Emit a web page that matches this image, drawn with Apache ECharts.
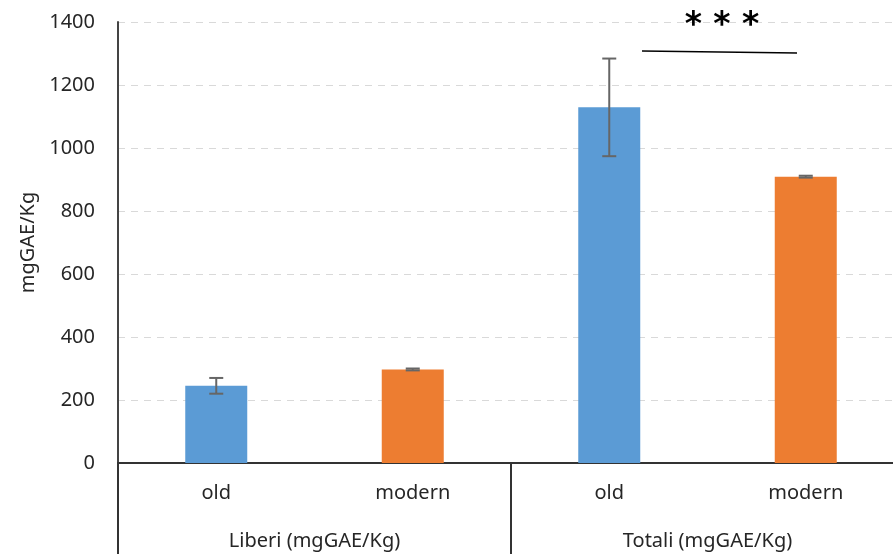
<!DOCTYPE html>
<html>
<head>
<meta charset="utf-8">
<script src="https://cdn.jsdelivr.net/npm/echarts@6/dist/echarts.min.js"></script>
<style>
  html, body { margin: 0; padding: 0; background: #fff; overflow: hidden; }
  /* plot area continues slightly past the right edge of the window */
  #chart { width: 904px; height: 554px; }
</style>
</head>
<body>
<div id="chart"></div>
<script>
// Polyphenol content (mgGAE/Kg): free vs total, old vs modern varieties
const varieties = ['old', 'modern', 'old', 'modern'];
const groups = ['Liberi (mgGAE/Kg)', 'Totali (mgGAE/Kg)'];
const means = [245, 297, 1129, 909];
const errors = [25, 3, 155, 3];
const yTicks = [0, 200, 400, 600, 800, 1000, 1200, 1400];

const colorOf = { old: '#5B9BD5', modern: '#ED7D31' };
const textColor = '#262626';
const font = 'Noto Sans';

const chart = echarts.init(document.getElementById('chart'), null, { renderer: 'canvas' });

const barData = means.map((v, i) => ({
  value: v,
  itemStyle: { color: colorOf[varieties[i]] }
}));
const errData = means.map((v, i) => [i, v - errors[i], v + errors[i]]);

chart.setOption({
  animation: false,
  backgroundColor: '#ffffff',
  grid: { left: 118, top: 22, right: 0, bottom: 91, containLabel: false },
  xAxis: [
    {
      type: 'category',
      data: varieties,
      position: 'bottom',
      axisLine: { show: true, lineStyle: { color: '#333333', width: 2 } },
      axisTick: { show: false },
      axisLabel: { margin: 20, fontFamily: font, fontSize: 20, color: textColor }
    },
    {
      type: 'category',
      data: groups,
      position: 'bottom',
      boundaryGap: true,
      axisLine: { show: true, lineStyle: { color: '#333333', width: 2 } },
      axisTick: { show: true, inside: false, length: 92, alignWithLabel: false, lineStyle: { color: '#333333', width: 2 } },
      axisLabel: { margin: 68, fontFamily: font, fontSize: 20, color: textColor }
    }
  ],
  yAxis: {
    type: 'value',
    min: yTicks[0],
    max: yTicks[yTicks.length - 1],
    interval: 200,
    name: 'mgGAE/Kg',
    nameLocation: 'middle',
    nameGap: 71,
    nameTextStyle: { fontFamily: font, fontSize: 20, color: textColor },
    axisLine: { show: true, lineStyle: { color: '#444444', width: 2 } },
    axisTick: { show: false },
    axisLabel: {
      margin: 23, fontFamily: font, fontSize: 20, color: textColor,
      formatter: function (v) { return String(v); }
    },
    splitLine: { show: true, lineStyle: { color: '#D9D9D9', type: [7, 6], width: 1.2 } }
  },
  series: [
    {
      type: 'bar',
      xAxisIndex: 0,
      data: barData,
      barWidth: 62,
      z: 2
    },
    {
      type: 'custom',
      xAxisIndex: 0,
      data: errData,
      z: 3,
      renderItem: function (params, api) {
        const idx = api.value(0);
        const lo = api.coord([idx, api.value(1)]);
        const hi = api.coord([idx, api.value(2)]);
        const cap = 7;
        const style = { stroke: '#666666', lineWidth: 2 };
        return {
          type: 'group',
          children: [
            { type: 'line', shape: { x1: hi[0], y1: hi[1], x2: lo[0], y2: lo[1] }, style: style },
            { type: 'line', shape: { x1: hi[0] - cap, y1: hi[1], x2: hi[0] + cap, y2: hi[1] }, style: style },
            { type: 'line', shape: { x1: lo[0] - cap, y1: lo[1], x2: lo[0] + cap, y2: lo[1] }, style: style }
          ]
        };
      }
    }
  ],
  graphic: [
    {
      type: 'line',
      shape: { x1: 642, y1: 51, x2: 797, y2: 53 },
      style: { stroke: '#000000', lineWidth: 1.3 },
      z: 10
    },
    {
      type: 'text',
      x: 722,
      y: 26,
      style: {
        text: '* * *',
        font: 'bold 33px "DejaVu Sans"',
        fill: '#000000',
        align: 'center',
        verticalAlign: 'middle'
      },
      z: 10
    }
  ]
});
</script>
</body>
</html>
